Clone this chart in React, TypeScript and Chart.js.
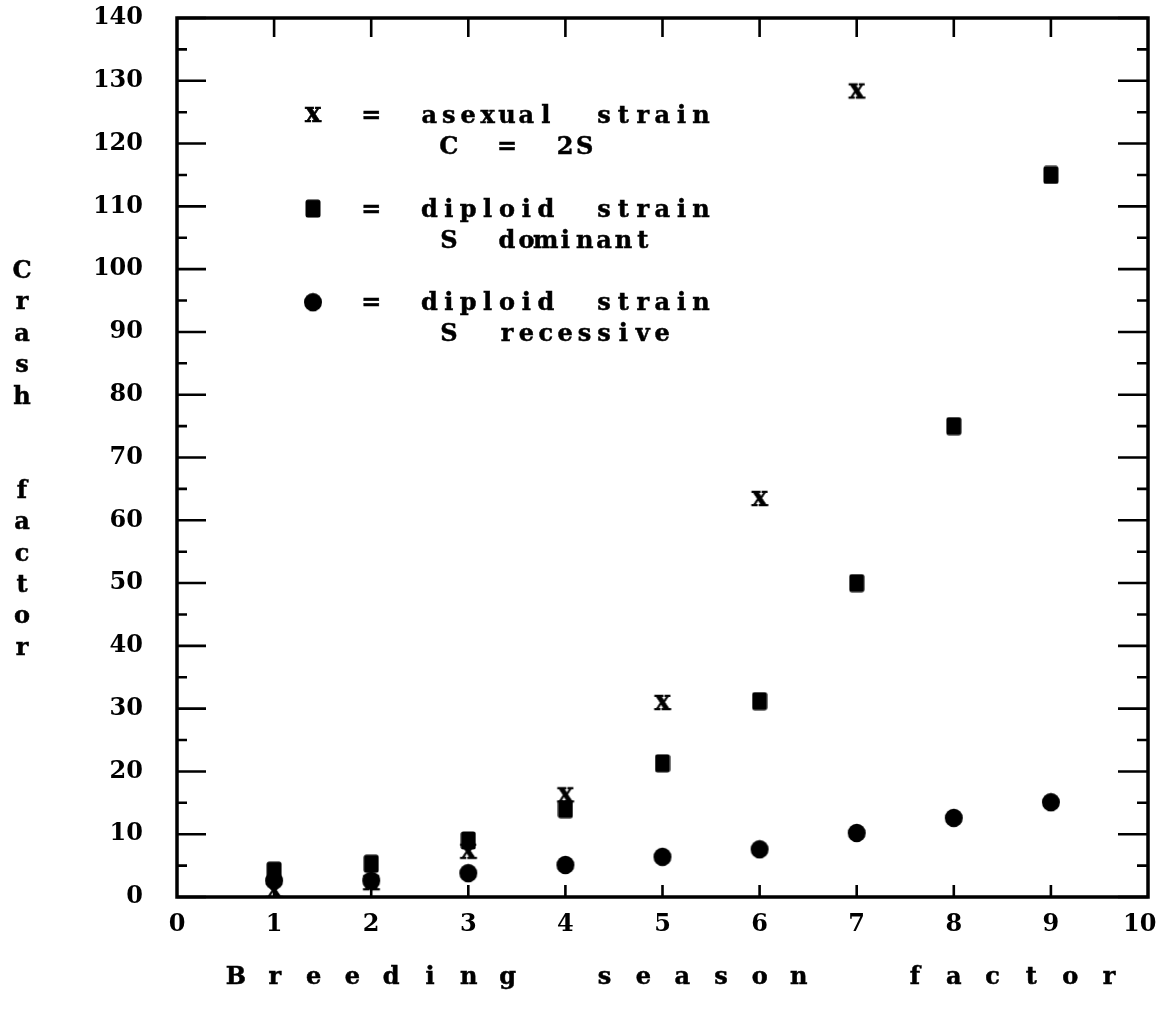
import React, { useEffect, useRef } from 'react';
import { Chart, registerables } from 'chart.js';

Chart.register(...registerables);

// ---- data ----
const asexualSeasons = [1, 2, 3, 4, 5, 6, 7];
const asexualValues = [1.0, 2.2, 7.2, 16.2, 30.9, 63.4, 128.3];

const diploidSeasons = [1, 2, 3, 4, 5, 6, 7, 8, 9];
const dominantValues = [4.2, 5.3, 9.0, 14.0, 21.3, 31.2, 50.0, 75.0, 115.0];
const recessiveValues = [2.6, 2.6, 3.8, 5.1, 6.4, 7.6, 10.2, 12.6, 15.1];

const yMajorTicks = [0, 10, 20, 30, 40, 50, 60, 70, 80, 90, 100, 110, 120, 130, 140];
const yMinorTicks = [5, 15, 25, 35, 45, 55, 65, 75, 85, 95, 105, 115, 125, 135];
const xInnerTicks = [1, 2, 3, 4, 5, 6, 7, 8, 9];

const legendLabels = ['asexual  strain', 'diploid  strain', 'diploid  strain'];
const legendSubLabels = ['C  =  2S', 'S  dominant', 'S  recessive'];
const xTitle = 'B r e e d i n g    s e a s o n     f a c t o r';
const yTitle = 'Crash  factor';

const TYPE_FONT = 'bold 24px "DejaVu Serif", serif';

function makeXMarker(): HTMLCanvasElement {
  const c = document.createElement('canvas');
  c.width = 28;
  c.height = 28;
  const ctx = c.getContext('2d')!;
  ctx.fillStyle = '#000';
  ctx.strokeStyle = '#000';
  ctx.lineWidth = 0.6;
  ctx.font = 'bold 27px "DejaVu Serif", serif';
  ctx.textAlign = 'center';
  ctx.textBaseline = 'alphabetic';
  ctx.fillText('x', 14, 21);
  ctx.strokeText('x', 14, 21);
  return c;
}

function makeSquareMarker(): HTMLCanvasElement {
  const c = document.createElement('canvas');
  c.width = 16;
  c.height = 19;
  const ctx = c.getContext('2d')!;
  ctx.fillStyle = '#000';
  ctx.beginPath();
  (ctx as any).roundRect(0.5, 0.5, 15, 18, 2.5);
  ctx.fill();
  return c;
}

function makeCircleMarker(): HTMLCanvasElement {
  const c = document.createElement('canvas');
  c.width = 20;
  c.height = 20;
  const ctx = c.getContext('2d')!;
  ctx.fillStyle = '#000';
  ctx.beginPath();
  ctx.ellipse(10, 10, 9, 9.3, 0, 0, Math.PI * 2);
  ctx.fill();
  return c;
}

function drawPitched(ctx: CanvasRenderingContext2D, text: string, x0: number, baseline: number, pitch: number) {
  for (let i = 0; i < text.length; i++) {
    const ch = text[i];
    if (ch === ' ') continue;
    ctx.fillText(ch, x0 + i * pitch, baseline);
    ctx.strokeText(ch, x0 + i * pitch, baseline);
  }
}

export default function App() {
  const ref = useRef<HTMLCanvasElement>(null);

  useEffect(() => {
    const canvas = ref.current!;
    const xImg = makeXMarker();
    const sqImg = makeSquareMarker();
    const ciImg = makeCircleMarker();

    const decorPlugin = {
      id: 'decor',
      afterDraw(chart: any) {
        const { ctx, chartArea } = chart;
        const { left, right, top, bottom } = chartArea;
        const xs = chart.scales.x;
        const ys = chart.scales.y;
        ctx.save();
        ctx.strokeStyle = '#000';
        ctx.fillStyle = '#000';
        ctx.lineCap = 'butt';
        ctx.lineWidth = 2.6;
        ctx.beginPath();
        for (const v of yMajorTicks) {
          const py = ys.getPixelForValue(v);
          ctx.moveTo(left, py);
          ctx.lineTo(left + 29, py);
          ctx.moveTo(right - 30, py);
          ctx.lineTo(right, py);
        }
        for (const v of yMinorTicks) {
          const py = ys.getPixelForValue(v);
          ctx.moveTo(left, py);
          ctx.lineTo(left + 10, py);
          ctx.moveTo(right - 11, py);
          ctx.lineTo(right, py);
        }
        for (const v of xInnerTicks) {
          const px = xs.getPixelForValue(v);
          ctx.moveTo(px, top);
          ctx.lineTo(px, top + 19);
          ctx.moveTo(px, bottom - 12);
          ctx.lineTo(px, bottom);
        }
        ctx.stroke();
        ctx.lineWidth = 3.5;
        ctx.strokeRect(left, top, right - left, bottom - top);

        // typewriter text
        ctx.font = TYPE_FONT;
        ctx.textAlign = 'center';
        ctx.textBaseline = 'alphabetic';
        ctx.lineWidth = 0.5;

        // legend
        const col0 = 313;
        const pitch = 19.4;
        const row0 = 123;
        const rowH = 31.2;
        const markers = [xImg, sqImg, ciImg];
        for (let k = 0; k < 3; k++) {
          const r = k * 3;
          const base = row0 + r * rowH;
          const m = markers[k];
          const cy = base - 8;
          ctx.drawImage(m, col0 - m.width / 2, cy - m.height / 2);
          drawPitched(ctx, '=', col0 + 3 * pitch, base, pitch);
          drawPitched(ctx, legendLabels[k], col0 + 6 * pitch, base, pitch);
          drawPitched(ctx, legendSubLabels[k], col0 + 7 * pitch, base + rowH, pitch);
        }

        // y title (stacked letters)
        for (let i = 0; i < yTitle.length; i++) {
          const ch = yTitle[i];
          if (ch === ' ') continue;
          const b = 278 + i * 31.4;
          ctx.fillText(ch, 22, b);
          ctx.strokeText(ch, 22, b);
        }

        // x title
        drawPitched(ctx, xTitle, 236, 984, 19.4);
        ctx.restore();
      },
    };

    const tickFont = { family: '"DejaVu Serif", serif', size: 24, weight: 'bold' as const };

    const chart = new Chart(canvas, {
      type: 'scatter',
      data: {
        datasets: [
          {
            label: 'asexual strain, C = 2S',
            data: asexualSeasons.map((s, i) => ({ x: s, y: asexualValues[i] })),
            pointStyle: xImg as any,
            pointRadius: 9,
            showLine: false,
          },
          {
            label: 'diploid strain, S dominant',
            data: diploidSeasons.map((s, i) => ({ x: s, y: dominantValues[i] })),
            pointStyle: sqImg as any,
            pointRadius: 9,
            showLine: false,
          },
          {
            label: 'diploid strain, S recessive',
            data: diploidSeasons.map((s, i) => ({ x: s, y: recessiveValues[i] })),
            pointStyle: ciImg as any,
            pointRadius: 9,
            showLine: false,
          },
        ],
      },
      options: {
        animation: false,
        responsive: false,
        devicePixelRatio: 1,
        layout: { padding: { left: 0, top: 18, right: 11, bottom: 0 } },
        plugins: {
          legend: { display: false },
          tooltip: { enabled: false },
        },
        scales: {
          x: {
            type: 'linear',
            min: 0,
            max: 10,
            grid: { display: false, drawTicks: false },
            border: { display: false },
            ticks: {
              stepSize: 1,
              color: '#000',
              font: tickFont,
              padding: 13,
              maxRotation: 0,
              autoSkip: false,
              callback: (v: any) => (v === 10 ? '10\u2007' : String(v)),
            },
            afterFit: (scale: any) => {
              scale.height = 119;
              scale.paddingLeft = 0;
              scale.paddingRight = 0;
            },
          },
          y: {
            type: 'linear',
            min: 0,
            max: 140,
            grid: { display: false, drawTicks: false },
            border: { display: false },
            ticks: {
              stepSize: 10,
              color: '#000',
              font: tickFont,
              padding: 34,
              autoSkip: false,
            },
            afterFit: (scale: any) => {
              scale.width = 177;
              scale.paddingTop = 0;
              scale.paddingBottom = 0;
            },
          },
        },
      },
      plugins: [decorPlugin],
    });

    return () => chart.destroy();
  }, []);

  return (
    <div style={{ position: 'absolute', left: 0, top: 0, width: 1159, height: 1016, background: '#fff' }}>
      <canvas ref={ref} width={1159} height={1016} style={{ display: 'block' }} />
    </div>
  );
}
